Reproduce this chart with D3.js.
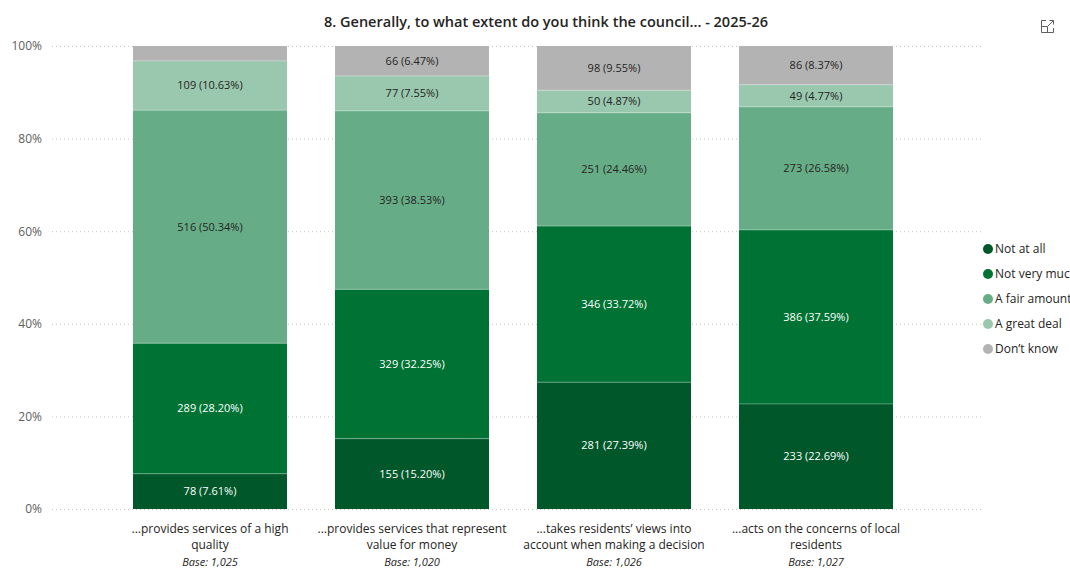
<!DOCTYPE html>
<html><head><meta charset="utf-8">
<script src="https://cdn.jsdelivr.net/npm/d3@7"></script>
<style>
body{margin:0;background:#fff;}
svg{display:block;font-family:"Segoe UI","Open Sans","Noto Sans",sans-serif;}
</style></head>
<body><svg id="chart" width="1070" height="569"></svg>
<script>
const categories = ["...provides services of a high quality","...provides services that represent value for money","...takes residents\u2019 views into account when making a decision","...acts on the concerns of local residents"];
const catLines = [["...provides services of a high","quality"],["...provides services that represent","value for money"],["...takes residents\u2019 views into","account when making a decision"],["...acts on the concerns of local","residents"]];
const bases = ["Base: 1,025","Base: 1,020","Base: 1,026","Base: 1,027"];
const seriesNames = ["Not at all","Not very much","A fair amount","A great deal","Don\u2019t know"];
const notAtAll = [78,155,281,233];
const notVeryMuch = [289,329,346,386];
const fairAmount = [516,393,251,273];
const greatDeal = [109,77,50,49];
const dontKnow = [33,66,98,86];
const yTicks = [0,0.2,0.4,0.6,0.8,1];
const colors = ["#00582A","#007334","#66AD87","#99C8AE","#B3B3B3"];
const textColors = ["#fff","#fff","#252423","#252423","#252423"];

const seriesVals = [notAtAll,notVeryMuch,fairAmount,greatDeal,dontKnow];
const totals = categories.map((c,i)=>d3.sum(seriesVals,s=>s[i]));
const rows = categories.map((c,i)=>{const o={cat:c}; seriesNames.forEach((n,k)=>o[n]=seriesVals[k][i]/totals[i]); return o;});
const stack = d3.stack().keys(seriesNames)(rows);

const svg = d3.select("#chart");
const y = d3.scaleLinear().domain([0,1]).range([509,46]);
const x = d3.scaleBand().domain(categories).range([109,917]).paddingInner(0.2376).paddingOuter(0.1188);

// gridlines
svg.append("g").selectAll("line").data(yTicks).join("line")
  .attr("x1",52).attr("x2",982).attr("y1",d=>y(d)+0.5).attr("y2",d=>y(d)+0.5)
  .attr("stroke","#C8C6C4").attr("stroke-width",1).attr("stroke-dasharray","1,3");

// y axis
const yAxis = d3.axisLeft(y).tickValues(yTicks).tickFormat(d3.format(".0%")).tickSize(0).tickPadding(0);
const yg = svg.append("g").attr("transform","translate(42,0)").call(yAxis);
yg.select(".domain").remove();
yg.selectAll("text").attr("font-size",12).attr("fill","#605E5C").attr("font-family","Segoe UI, Open Sans, sans-serif");

// bars
stack.forEach((layer,k)=>{
  const g = svg.append("g");
  g.selectAll("rect").data(layer).join("rect")
    .attr("x",d=>x(d.data.cat)).attr("width",x.bandwidth())
    .attr("y",d=>y(d[1])).attr("height",d=>y(d[0])-y(d[1]))
    .attr("fill",colors[k]);
  g.selectAll("text").data(layer.map((d,i)=>({d,i}))).join("text")
    .filter(o=>(y(o.d[0])-y(o.d[1]))>16)
    .attr("x",o=>x(o.d.data.cat)+x.bandwidth()/2)
    .attr("y",o=>(y(o.d[0])+y(o.d[1]))/2)
    .attr("dy","0.35em").attr("text-anchor","middle")
    .attr("font-size",11).attr("fill",textColors[k])
    .text(o=>seriesVals[k][o.i]+" ("+(seriesVals[k][o.i]/totals[o.i]*100).toFixed(2)+"%)");
});
// thin separators
stack.slice(1).forEach(layer=>{
  svg.append("g").selectAll("line").data(layer).join("line")
    .attr("x1",d=>x(d.data.cat)).attr("x2",d=>x(d.data.cat)+x.bandwidth())
    .attr("y1",d=>y(d[0])).attr("y2",d=>y(d[0]))
    .attr("stroke","#ffffff").attr("stroke-opacity",0.3).attr("stroke-width",1);
});

// x labels
const xl = svg.append("g");
categories.forEach((c,i)=>{
  const cx = x(c)+x.bandwidth()/2;
  const t = xl.append("text").attr("x",cx).attr("y",533).attr("text-anchor","middle").attr("font-size",12).attr("fill","#252423");
  catLines[i].forEach((l,j)=>t.append("tspan").attr("x",cx).attr("dy",j?16:0).text(l));
  xl.append("text").attr("x",cx).attr("y",566).attr("text-anchor","middle").attr("font-size",11).attr("font-style","italic").attr("fill","#252423").text(bases[i]);
});

// title
svg.append("text").attr("x",546).attr("y",27).attr("text-anchor","middle")
  .attr("font-size",14.5).attr("font-weight",600).attr("fill","#252423")
  .text("8. Generally, to what extent do you think the council... - 2025-26");

// expand icon
const ic = svg.append("g").attr("transform","translate(1041,20)").attr("fill","none").attr("stroke","#605E5C").attr("stroke-width",1);
ic.append("path").attr("d","M5,0.5 H0.5 V12.5 H12.5 V8");
ic.append("path").attr("d","M0.5,6.5 H6.5 V12.5");
ic.append("path").attr("d","M7,6 L12.5,0.5 M8.5,0.5 H12.5 V4.5");

// legend
const lg = svg.append("g");
seriesNames.forEach((n,k)=>{
  const ly = 249 + k*25;
  lg.append("circle").attr("cx",988).attr("cy",ly).attr("r",5).attr("fill",colors[k]);
  lg.append("text").attr("x",995).attr("y",ly).attr("dy","0.35em").attr("font-size",12).attr("fill","#252423").text(n);
});
</script></body></html>
